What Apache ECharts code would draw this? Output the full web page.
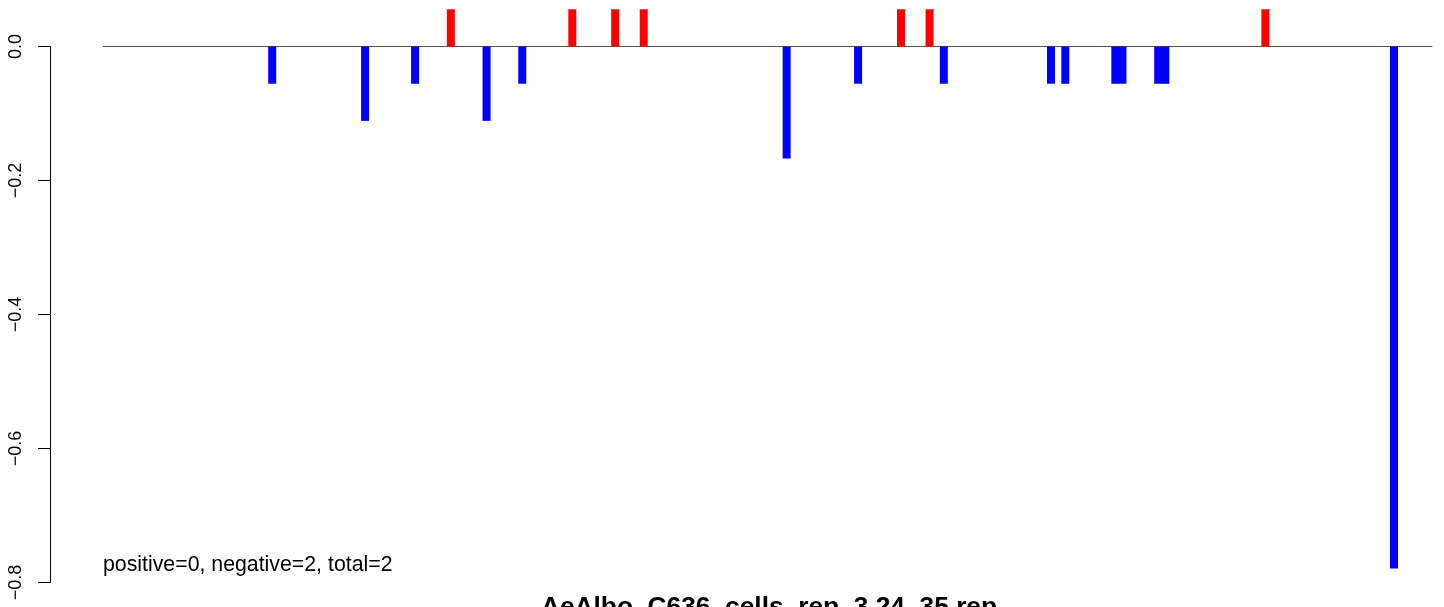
<!DOCTYPE html>
<html>
<head>
<meta charset="utf-8">
<script src="https://cdn.jsdelivr.net/npm/echarts@6/dist/echarts.min.js"></script>
<style>
html,body{margin:0;padding:0;background:#fff;}
#chart{width:1444px;height:607px;}
</style>
</head>
<body>
<div id="chart"></div>
<script>
// Positions along the sequence and their scores
var positions = [24, 37, 44, 49, 54, 59, 66, 72, 76, 96, 106, 112, 116, 118, 133, 135, 142, 143, 148, 149, 163, 181];
var scores = [-0.0556, -0.111, -0.0556, 0.0556, -0.111, -0.0556, 0.0556, 0.0556, 0.0556, -0.167, -0.0556, 0.0556, 0.0556, -0.0556, -0.0556, -0.0556, -0.0556, -0.0556, -0.0556, -0.0556, 0.0556, -0.779];
var yTicks = [-0.8, -0.6, -0.4, -0.2, 0.0];
var chartTitle = 'AeAlbo_C636_cells_rep_3.24_35.rep';
var summaryText = 'positive=0, negative=2, total=2';

var FONT = '"Liberation Sans", Arial, Helvetica, sans-serif';
var chart = echarts.init(document.getElementById('chart'), null, {renderer: 'canvas'});

var data = positions.map(function (p, i) { return [p, scores[i]]; });

chart.setOption({
  animation: false,
  backgroundColor: '#ffffff',
  grid: {left: 103, right: 12, top: 46.5, height: 536},
  xAxis: {
    type: 'value', min: 0.32, max: 186.32,
    axisLine: {show: true, onZero: true, lineStyle: {color: '#555555', width: 1}},
    axisTick: {show: false}, axisLabel: {show: false}, splitLine: {show: false}
  },
  yAxis: {
    type: 'value', min: yTicks[0], max: yTicks[yTicks.length - 1], interval: 0.2,
    offset: 53,
    axisLine: {show: true, lineStyle: {color: '#000', width: 1}},
    axisTick: {show: true, length: 12, lineStyle: {color: '#000', width: 1}},
    splitLine: {show: false},
    axisLabel: {
      rotate: 90, margin: 25, fontSize: 18, color: '#000', fontFamily: FONT,
      formatter: function (v) { return v.toFixed(1).replace('-', '\u2212'); }
    }
  },
  series: [{
    type: 'bar',
    clip: false,
    barWidth: 8,
    data: data,
    itemStyle: {
      color: function (p) { return p.value[1] > 0 ? '#ff0000' : '#0000ff'; }
    }
  }],
  graphic: [
    {type: 'text', left: 103, top: 555, style: {text: summaryText, font: '21.3px ' + FONT, fill: '#000'}},
    {type: 'text', x: 769, y: 595, style: {text: chartTitle, font: 'bold 26.3px ' + FONT, fill: '#000', textAlign: 'center', textVerticalAlign: 'top'}}
  ]
});
</script>
</body>
</html>
